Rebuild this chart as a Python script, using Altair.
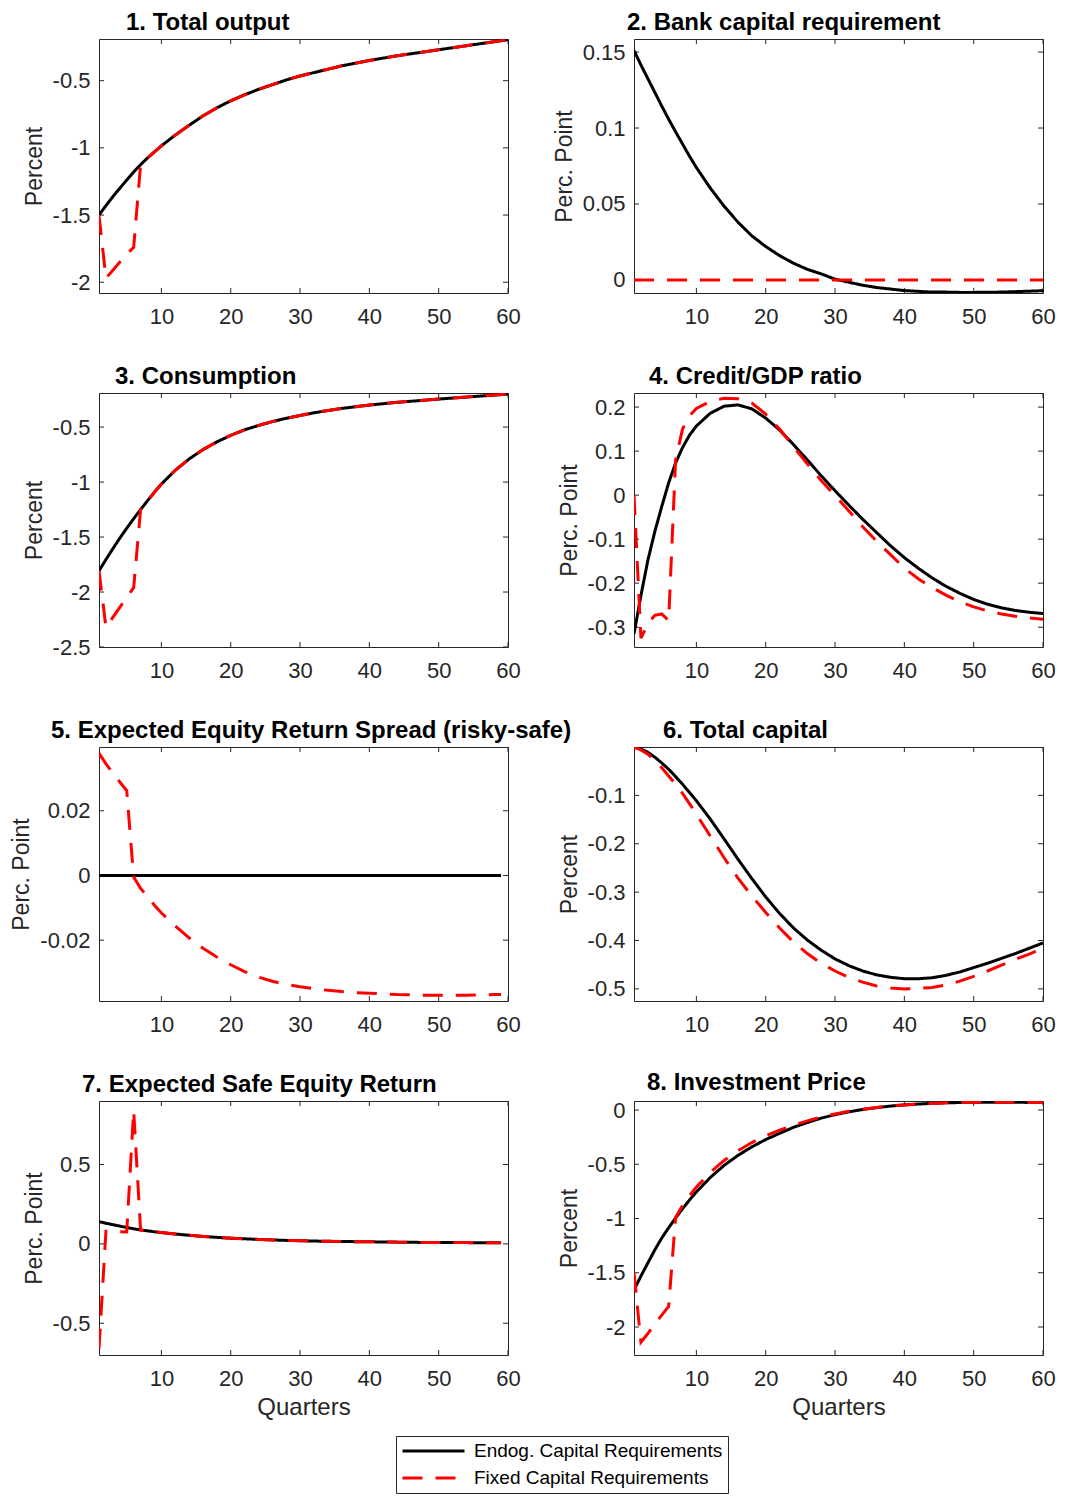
import altair as alt
import pandas as pd

# ---------------- data ----------------
SERIES = ["Endog. Capital Requirements", "Fixed Capital Requirements"]
X_TICKS = [10, 20, 30, 40, 50, 60]

QTR = [1, 2, 3, 4, 5, 6, 7, 8, 9, 10, 12, 14, 16, 18, 20, 22, 24, 26, 28, 30,
       32, 34, 36, 38, 40, 42, 44, 46, 48, 50, 52, 54, 56, 58, 60]
QTR59 = [1, 2, 3, 4, 5, 6, 7, 8, 9, 10, 12, 14, 16, 18, 20, 22, 24, 26, 28, 30,
         32, 34, 36, 38, 40, 42, 44, 46, 48, 50, 52, 54, 56, 58, 59]

# 1. Total output
out_endog = [-1.50, -1.43, -1.363, -1.30, -1.24, -1.18, -1.125, -1.075, -1.03, -0.985,
             -0.905, -0.832, -0.762, -0.702, -0.65, -0.605, -0.565, -0.53, -0.495, -0.465,
             -0.44, -0.415, -0.39, -0.37, -0.35, -0.332, -0.315, -0.30, -0.285, -0.27,
             -0.255, -0.24, -0.225, -0.21, -0.195]
out_fixed = [-1.50, -1.97, -1.91, -1.85, -1.79, -1.74, -1.125, -1.075, -1.03, -0.985,
             -0.905, -0.832, -0.762, -0.702, -0.65, -0.605, -0.565, -0.53, -0.495, -0.465,
             -0.44, -0.415, -0.39, -0.37, -0.35, -0.332, -0.315, -0.30, -0.285, -0.27,
             -0.255, -0.24, -0.225, -0.21, -0.195]

# 2. Bank capital requirement
bcr_endog = [0.151, 0.1415, 0.1325, 0.1235, 0.1145, 0.1058, 0.0975, 0.0895, 0.0815, 0.074,
             0.0605, 0.0485, 0.038, 0.029, 0.022, 0.016, 0.011, 0.007, 0.004, 0.0005,
             -0.0015, -0.0035, -0.005, -0.006, -0.007, -0.0075, -0.008, -0.008, -0.0082, -0.0082,
             -0.0081, -0.008, -0.0077, -0.0074, -0.0071]
bcr_fixed = [0.0] * 35

# 3. Consumption
con_endog = [-1.806, -1.705, -1.606, -1.51, -1.42, -1.333, -1.25, -1.17, -1.092, -1.018,
             -0.893, -0.79, -0.705, -0.635, -0.575, -0.525, -0.485, -0.45, -0.42, -0.395,
             -0.37, -0.35, -0.33, -0.315, -0.30, -0.287, -0.275, -0.265, -0.255, -0.245,
             -0.236, -0.227, -0.218, -0.209, -0.20]
con_fixed = [-1.806, -2.32, -2.23, -2.14, -2.05, -1.96, -1.25, -1.17, -1.092, -1.018,
             -0.893, -0.79, -0.705, -0.635, -0.575, -0.525, -0.485, -0.45, -0.42, -0.395,
             -0.37, -0.35, -0.33, -0.315, -0.30, -0.287, -0.275, -0.265, -0.255, -0.245,
             -0.236, -0.227, -0.218, -0.209, -0.20]

# 4. Credit/GDP ratio
cred_endog = [-0.315, -0.228, -0.148, -0.083, -0.026, 0.028, 0.073, 0.108, 0.136, 0.157,
              0.186, 0.202, 0.205, 0.196, 0.175, 0.148, 0.115, 0.08, 0.044, 0.01,
              -0.023, -0.055, -0.085, -0.115, -0.142, -0.166, -0.188, -0.207, -0.223, -0.237,
              -0.248, -0.256, -0.262, -0.266, -0.269]
cred_fixed = [0.0, -0.325, -0.292, -0.273, -0.27, -0.285, 0.08, 0.15, 0.18, 0.197,
              0.213, 0.22, 0.219, 0.209, 0.184, 0.15, 0.11, 0.071, 0.033, -0.001,
              -0.036, -0.072, -0.105, -0.135, -0.166, -0.19, -0.21, -0.227, -0.242, -0.254,
              -0.263, -0.27, -0.275, -0.279, -0.282]

# 5. Expected Equity Return Spread (risky-safe)
spr_endog = [0.0] * 35
spr_fixed = [0.0378, 0.0345, 0.0316, 0.0289, 0.0262, -0.0005, -0.004, -0.0066, -0.0092, -0.0116,
             -0.0156, -0.0193, -0.0225, -0.0252, -0.0276, -0.0297, -0.0314, -0.0327, -0.0337, -0.0344,
             -0.035, -0.0355, -0.0359, -0.0362, -0.0364, -0.0366, -0.0368, -0.0369, -0.037, -0.037,
             -0.037, -0.037, -0.0369, -0.0368, -0.0368]

# 6. Total capital
cap_endog = [0.0, -0.004, -0.011, -0.021, -0.033, -0.046, -0.061, -0.077, -0.094, -0.111,
             -0.149, -0.19, -0.232, -0.272, -0.31, -0.344, -0.374, -0.399, -0.42, -0.438,
             -0.452, -0.463, -0.471, -0.476, -0.479, -0.479, -0.477, -0.472, -0.465, -0.456,
             -0.447, -0.437, -0.427, -0.416, -0.405]
cap_fixed = [0.0, -0.006, -0.015, -0.028, -0.043, -0.06, -0.077, -0.096, -0.117, -0.139,
             -0.184, -0.229, -0.271, -0.308, -0.342, -0.374, -0.403, -0.427, -0.447, -0.463,
             -0.476, -0.486, -0.494, -0.498, -0.5, -0.499, -0.497, -0.492, -0.484, -0.474,
             -0.463, -0.451, -0.439, -0.428, -0.416]

# 7. Expected Safe Equity Return
safe_endog = [0.14, 0.13, 0.121, 0.112, 0.103, 0.095, 0.088, 0.082, 0.076, 0.071,
              0.062, 0.054, 0.047, 0.041, 0.036, 0.032, 0.028, 0.025, 0.022, 0.02,
              0.018, 0.016, 0.015, 0.014, 0.013, 0.012, 0.011, 0.010, 0.009, 0.009,
              0.008, 0.008, 0.007, 0.007, 0.007]
safe_fixed = [-0.66, 0.08, 0.079, 0.077, 0.075, 0.84, 0.087, 0.082, 0.076, 0.071,
              0.062, 0.054, 0.047, 0.041, 0.036, 0.032, 0.028, 0.025, 0.022, 0.02,
              0.018, 0.016, 0.015, 0.014, 0.013, 0.012, 0.011, 0.010, 0.009, 0.009,
              0.008, 0.008, 0.007, 0.007, 0.007]

# 8. Investment Price
inv_endog = [-1.66, -1.53, -1.41, -1.29, -1.18, -1.085, -0.995, -0.91, -0.83, -0.755,
             -0.622, -0.51, -0.418, -0.34, -0.272, -0.215, -0.16, -0.115, -0.075, -0.043,
             -0.017, 0.005, 0.022, 0.036, 0.047, 0.055, 0.061, 0.066, 0.069, 0.071,
             0.072, 0.072, 0.071, 0.07, 0.069]
inv_fixed = [-1.50, -2.14, -2.06, -1.97, -1.89, -1.81, -0.99, -0.88, -0.79, -0.71,
             -0.575, -0.465, -0.375, -0.30, -0.238, -0.185, -0.14, -0.10, -0.065, -0.036,
             -0.012, 0.008, 0.024, 0.037, 0.047, 0.055, 0.061, 0.066, 0.069, 0.071,
             0.072, 0.072, 0.071, 0.07, 0.069]

# ---------------- style ----------------
FONT = "Liberation Sans"
AXC = "#262626"
W, H = 409, 254
TICK = 5


def panel(title, dx, ytitle, yticks, ydom, xs, endog, fixed, xtitle=None):
    n = len(xs)
    df = pd.DataFrame({
        "q": list(xs) + list(xs),
        "v": list(endog) + list(fixed),
        "s": [SERIES[0]] * n + [SERIES[1]] * n,
    })
    xscale = alt.Scale(domain=[1, 60], nice=False, zero=False)
    yscale = alt.Scale(domain=ydom, nice=False, zero=False)
    xkw = dict(values=X_TICKS, ticks=False, domain=False, grid=False,
               labelExpr="'' + datum.value", labelFont=FONT, labelFontSize=22,
               labelColor=AXC, labelPadding=13, labelFlush=False,
               titleFont=FONT, titleFontSize=24, titleFontWeight="normal",
               titleColor=AXC, titlePadding=6)
    xaxis = alt.Axis(title=xtitle, **xkw) if xtitle else alt.Axis(title=None, **xkw)
    yaxis = alt.Axis(values=yticks, ticks=False, domain=False, grid=False,
                     labelExpr="'' + datum.value", labelFont=FONT, labelFontSize=22,
                     labelColor=AXC, labelPadding=9, labelFlush=False,
                     title=ytitle, titleFont=FONT, titleFontSize=23,
                     titleFontWeight="normal", titleColor=AXC, titlePadding=6)
    leg = alt.Legend(title=None, orient="none", legendX=297, legendY=1397,
                     direction="vertical", symbolType="stroke", symbolSize=3844,
                     symbolStrokeWidth=3, clipHeight=20, rowPadding=7,
                     labelFont=FONT, labelFontSize=19, labelColor="black",
                     labelOffset=8, labelLimit=500, strokeColor=AXC,
                     fillColor="white", padding=5)
    lines = alt.Chart(df).mark_line(strokeWidth=3, clip=True, strokeCap="butt").encode(
        x=alt.X("q:Q", scale=xscale, axis=xaxis),
        y=alt.Y("v:Q", scale=yscale, axis=yaxis),
        color=alt.Color("s:N", scale=alt.Scale(domain=SERIES, range=["#000000", "#ff0000"]),
                        legend=leg),
        strokeDash=alt.StrokeDash("s:N", scale=alt.Scale(domain=SERIES, range=[[1, 0], [20, 13]]),
                                  legend=leg),
    )
    xt = pd.DataFrame({"t": X_TICKS})
    yt = pd.DataFrame({"w": yticks})
    xenc = alt.X("t:Q", scale=xscale, axis=xaxis)
    yenc = alt.Y("w:Q", scale=yscale, axis=yaxis)
    top = alt.Chart(xt).mark_rule(color=AXC, strokeWidth=1).encode(
        x=xenc, y=alt.value(0), y2=alt.value(TICK))
    bot = alt.Chart(xt).mark_rule(color=AXC, strokeWidth=1).encode(
        x=xenc, y=alt.value(H), y2=alt.value(H - TICK))
    lft = alt.Chart(yt).mark_rule(color=AXC, strokeWidth=1).encode(
        y=yenc, x=alt.value(0), x2=alt.value(TICK))
    rgt = alt.Chart(yt).mark_rule(color=AXC, strokeWidth=1).encode(
        y=yenc, x=alt.value(W - TICK), x2=alt.value(W))
    return alt.layer(top, bot, lft, rgt, lines).properties(
        width=W, height=H,
        title=alt.TitleParams(text=title, anchor="start", frame="group", dx=dx,
                              font=FONT, fontSize=24, fontWeight="bold",
                              color="black", offset=4),
    )


panels = [
    panel("1. Total output", 27, "Percent", [-2, -1.5, -1, -0.5], [-2.08, -0.19],
          QTR, out_endog, out_fixed),
    panel("2. Bank capital requirement", -7, "Perc. Point", [0, 0.05, 0.1, 0.15],
          [-0.0086, 0.1586], QTR, bcr_endog, bcr_fixed),
    panel("3. Consumption", 16, "Percent", [-2.5, -2, -1.5, -1, -0.5], [-2.5, -0.19],
          QTR, con_endog, con_fixed),
    panel("4. Credit/GDP ratio", 15, "Perc. Point", [-0.3, -0.2, -0.1, 0, 0.1, 0.2],
          [-0.345, 0.232], QTR, cred_endog, cred_fixed),
    panel("5. Expected Equity Return Spread (risky-safe)", -48, "Perc. Point",
          [-0.02, 0, 0.02], [-0.0388, 0.0397], QTR59, spr_endog, spr_fixed),
    panel("6. Total capital", 29, "Percent", [-0.5, -0.4, -0.3, -0.2, -0.1], [-0.525, 0.0],
          QTR, cap_endog, cap_fixed),
    panel("7. Expected Safe Equity Return", -17, "Perc. Point", [-0.5, 0, 0.5], [-0.70, 0.90],
          QTR59, safe_endog, safe_fixed, xtitle="Quarters"),
    panel("8. Investment Price", 13, "Percent", [-2, -1.5, -1, -0.5, 0], [-2.258, 0.083],
          QTR, inv_endog, inv_fixed, xtitle="Quarters"),
]

chart = alt.concat(*panels, columns=2, spacing={"row": 100, "column": 126},
                   bounds="flush").configure(
    font=FONT, padding={"left": 2, "top": 2, "right": 0, "bottom": 0},
    background="white",
).configure_view(stroke=AXC, strokeWidth=1)

chart.save("out.html", embed_options={"renderer": "svg", "actions": False})
